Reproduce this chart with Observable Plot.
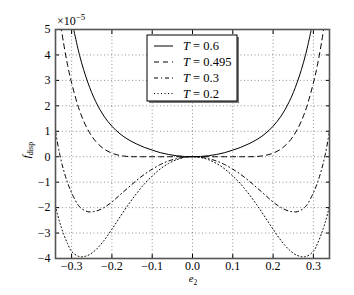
<!DOCTYPE html>
<html><head><meta charset="utf-8">
<script src="https://cdn.jsdelivr.net/npm/d3@7"></script>
<script src="https://cdn.jsdelivr.net/npm/@observablehq/plot@0.6"></script>
<style>
html,body{margin:0;padding:0;background:#fff;}
#chart{position:relative;width:354px;height:295px;}
</style></head><body><div id="chart"></div>
<script>
// e2 positions
const e2 = [-0.34,-0.33,-0.32,-0.31,-0.30,-0.28,-0.26,-0.24,-0.22,-0.20,-0.18,-0.16,-0.14,-0.12,-0.10,-0.08,-0.06,-0.04,-0.02,0,
  0.02,0.04,0.06,0.08,0.10,0.12,0.14,0.16,0.18,0.20,0.22,0.24,0.26,0.28,0.30,0.31,0.32,0.33,0.34];
// f_disp in units of 1e-5
const fT06 = [null,null,null,null,5.39,3.97,2.93,2.16,1.60,1.20,0.90,0.68,0.51,0.37,0.26,0.16,0.09,0.04,0.01,0,
  0.01,0.04,0.09,0.16,0.26,0.37,0.51,0.68,0.90,1.20,1.60,2.16,2.93,3.97,5.39,null,null,null,null];
const fT0495 = [null,5.49,4.47,3.60,2.90,1.80,1.07,0.60,0.31,0.14,0.05,0.01,0,0,0,0,0,0,0,0,
  0,0,0,0,0,0,0,0.01,0.05,0.14,0.31,0.60,1.07,1.80,2.90,3.60,4.47,5.49,null];
const fT03 = [1.00,0.13,-0.52,-1.02,-1.42,-1.97,-2.16,-2.14,-2.00,-1.78,-1.50,-1.22,-0.95,-0.70,-0.49,-0.31,-0.17,-0.08,-0.02,0,
  -0.02,-0.08,-0.17,-0.31,-0.49,-0.70,-0.95,-1.22,-1.50,-1.78,-2.00,-2.14,-2.16,-1.97,-1.42,-1.02,-0.52,0.13,1.00];
const fT02 = [-1.95,-2.55,-3.03,-3.42,-3.72,-3.93,-3.88,-3.66,-3.30,-2.85,-2.37,-1.90,-1.47,-1.08,-0.76,-0.48,-0.27,-0.12,-0.03,0,
  -0.03,-0.12,-0.27,-0.48,-0.76,-1.08,-1.47,-1.90,-2.37,-2.85,-3.30,-3.66,-3.88,-3.93,-3.72,-3.42,-3.03,-2.55,-1.95];
const seriesLabels = ["0.6","0.495","0.3","0.2"];
const seriesDash = [null,"5,4","4,3,1,3","1,2.5"];
const xTicks = [-0.3,-0.2,-0.1,0.0,0.1,0.2,0.3];
const yTicks = [-4,-3,-2,-1,0,1,2,3,4,5];

const allSeries = [fT06,fT0495,fT03,fT02];
const rows = allSeries.flatMap((arr,i)=>arr.map((v,j)=>({x:e2[j], y:v, T:seriesLabels[i]})));

const minus = s => s.replace("-", "\u2212");
const font = "Liberation Serif, DejaVu Serif, serif";
const frameStroke = "#555";

const lineMarks = seriesLabels.map((lab,i)=>Plot.line(rows.filter(r=>r.T===lab), {
  x:"x", y:"y", stroke:"black", strokeWidth:1, strokeDasharray: seriesDash[i], curve:"catmull-rom", clip:true
}));

const chart = Plot.plot({
  width:354, height:295,
  marginLeft:55, marginRight:25, marginTop:29, marginBottom:37,
  style:{fontFamily:font, fontSize:"12px", background:"white", color:"black"},
  x:{domain:[-0.34,0.34]},
  y:{domain:[-4,5]},
  marks:[
    Plot.gridX(xTicks, {stroke:"#000", strokeOpacity:0.55, strokeDasharray:"1,2.5", strokeWidth:0.8}),
    Plot.gridY(yTicks, {stroke:"#000", strokeOpacity:0.55, strokeDasharray:"1,2.5", strokeWidth:0.8}),
    ...lineMarks,
    Plot.axisX(xTicks, {anchor:"bottom", tickSize:0, tickPadding:3, tickFormat:d=>minus(d.toFixed(1)), label:null, fontSize:12}),
    Plot.axisX(xTicks, {anchor:"bottom", tickSize:-4, tickFormat:()=>"", label:null}),
    Plot.axisX(xTicks, {anchor:"top", tickSize:-4, tickFormat:()=>"", label:null}),
    Plot.axisY(yTicks, {anchor:"left", tickSize:0, tickPadding:5, tickFormat:d=>minus(String(d)), label:null, fontSize:12}),
    Plot.axisY(yTicks, {anchor:"left", tickSize:-4, tickFormat:()=>"", label:null}),
    Plot.axisY(yTicks, {anchor:"right", tickSize:-4, tickFormat:()=>"", label:null}),
    Plot.frame({stroke:frameStroke, strokeWidth:1.6})
  ]
});
document.getElementById("chart").appendChild(chart);

// Annotations: axis labels, exponent, legend
const svg = d3.select(chart);
const ns = svg.append("g").attr("font-family", font).attr("fill","black").attr("text-anchor","start");
// exponent
const ex = ns.append("text").attr("x",57).attr("y",25).attr("font-size",12).attr("text-anchor","start");
ex.append("tspan").text("\u00d710");
ex.append("tspan").attr("dy",-5).attr("font-size",9).text("\u22125");
// x label
const xl = ns.append("text").attr("x",193).attr("y",282).attr("text-anchor","middle").attr("font-size",10.5);
xl.append("tspan").attr("font-style","italic").text("e");
xl.append("tspan").attr("dy",2.5).attr("font-size",7.5).text("2");
// y label
const yl = ns.append("text").attr("transform","translate(30,150) rotate(-90)").attr("text-anchor","middle").attr("font-size",11);
yl.append("tspan").attr("font-style","italic").text("f");
yl.append("tspan").attr("dy",2.5).attr("font-size",8).text("disp");

// legend
const lg = svg.append("g").attr("font-family", font).attr("text-anchor","start");
lg.append("rect").attr("x",149).attr("y",37).attr("width",90).attr("height",66).attr("fill","#777");
lg.append("rect").attr("x",147).attr("y",35).attr("width",90).attr("height",66).attr("fill","white").attr("stroke","black").attr("stroke-width",1);
const rowY = [46,62,78,93.5];
seriesLabels.forEach((lab,i)=>{
  lg.append("line").attr("x1",154).attr("x2",173).attr("y1",rowY[i]).attr("y2",rowY[i])
    .attr("stroke","black").attr("stroke-width",1).attr("stroke-dasharray",seriesDash[i]);
  const t = lg.append("text").attr("x",183).attr("y",rowY[i]+4).attr("font-size",12.5).attr("text-anchor","start");
  t.append("tspan").attr("font-style","italic").text("T");
  t.append("tspan").text(" = "+lab);
});
</script></body></html>
